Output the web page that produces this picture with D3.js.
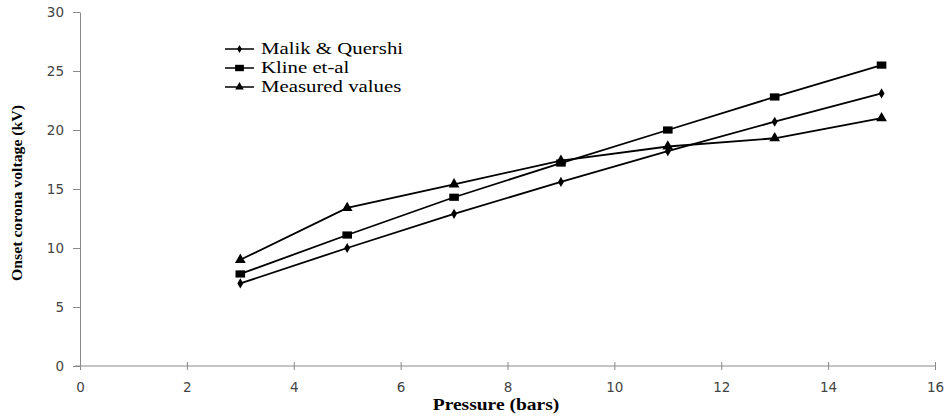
<!DOCTYPE html>
<html>
<head>
<meta charset="utf-8">
<script src="https://cdn.jsdelivr.net/npm/d3@7"></script>
<style>
  html, body { margin: 0; padding: 0; background: #fff; }
  svg { display: block; }
</style>
</head>
<body>
<svg id="chart" width="946" height="418"></svg>
<script>
// Pressure (bars) at which onset voltage was computed / measured
const pressure = [3, 5, 7, 9, 11, 13, 15];
// Onset corona voltage (kV)
const malikQuershi = [7.0, 10.0, 12.9, 15.6, 18.2, 20.7, 23.1];
const klineEtAl    = [7.8, 11.1, 14.3, 17.2, 20.0, 22.8, 25.5];
const measured     = [9.0, 13.4, 15.4, 17.4, 18.6, 19.3, 21.0];

const seriesNames = ["Malik & Quershi", "Kline et-al", "Measured values"];
const xTicks = [0, 2, 4, 6, 8, 10, 12, 14, 16];
const yTicks = [0, 5, 10, 15, 20, 25, 30];

const svg = d3.select("#chart");
const x = d3.scaleLinear().domain([0, 16]).range([80, 935]);
const y = d3.scaleLinear().domain([0, 30]).range([366, 12]);

const axisColor = "#8a8a8a";
const tickFont = "'DejaVu Sans', sans-serif";
const serif = "'Liberation Serif', 'Times New Roman', serif";

// Y axis: ticks pointing outward
const yAxis = svg.append("g")
  .attr("transform", `translate(${x(0)},0)`)
  .call(d3.axisLeft(y).tickValues(yTicks).tickSize(7).tickPadding(9).tickSizeOuter(0));
yAxis.select(".domain").attr("stroke", axisColor);
yAxis.selectAll(".tick line").attr("stroke", axisColor);
yAxis.selectAll(".tick text")
  .attr("fill", "#444").style("font-family", tickFont).style("font-size", "13.5px");

// X axis: ticks crossing the axis line
const xAxis = svg.append("g")
  .attr("transform", `translate(0,${y(0)})`)
  .call(d3.axisBottom(x).tickValues(xTicks).tickSize(4).tickPadding(12).tickSizeOuter(0));
xAxis.select(".domain").attr("stroke", axisColor).attr("d", `M${x(0) - 5},0H${x(16)}`);
xAxis.selectAll(".tick line").attr("stroke", axisColor).attr("y1", -4);
xAxis.selectAll(".tick text")
  .attr("fill", "#444").style("font-family", tickFont).style("font-size", "13.5px");

// Axis titles
svg.append("text")
  .attr("transform", `translate(22,${(y(0) + y(30)) / 2 + 4}) rotate(-90) scale(1.05,1)`)
  .attr("text-anchor", "middle")
  .style("font-family", serif).style("font-weight", "bold").style("font-size", "15px")
  .text("Onset corona voltage (kV)");

svg.append("text")
  .attr("transform", `translate(496,410) scale(1.22,1)`)
  .attr("text-anchor", "middle")
  .style("font-family", serif).style("font-weight", "bold").style("font-size", "16px")
  .text("Pressure (bars)");

// Marker shapes
const symbols = [
  d3.symbol().type(d3.symbolDiamond).size(30),
  d3.symbol().type(d3.symbolSquare).size(64),
  d3.symbol().type(d3.symbolTriangle).size(50)
];

const series = [malikQuershi, klineEtAl, measured];
const line = d3.line().x((d, i) => x(pressure[i])).y(d => y(d));

series.forEach((vals, s) => {
  svg.append("path")
    .datum(vals)
    .attr("fill", "none").attr("stroke", "#000").attr("stroke-width", 1.8)
    .attr("d", line);
  svg.selectAll(null)
    .data(vals)
    .enter().append("path")
    .attr("transform", (d, i) => `translate(${x(pressure[i])},${y(d)})` + (s === 1 ? " scale(1.2,0.9)" : ""))
    .attr("d", symbols[s]())
    .attr("fill", "#000");
});

// Legend
const legendRows = [49, 68, 87];
seriesNames.forEach((name, s) => {
  const g = svg.append("g").attr("transform", `translate(225,${legendRows[s]})`);
  g.append("line").attr("x1", 0).attr("x2", 29).attr("stroke", "#000").attr("stroke-width", 1.5);
  g.append("path")
    .attr("transform", "translate(14.5,0)" + (s === 1 ? " scale(1.1,0.8)" : " scale(0.8)"))
    .attr("d", symbols[s]())
    .attr("fill", "#000");
  g.append("text")
    .attr("transform", "translate(36,5) scale(1.3,1)")
    .style("font-family", serif).style("font-size", "16px")
    .text(name);
});
</script>
</body>
</html>
